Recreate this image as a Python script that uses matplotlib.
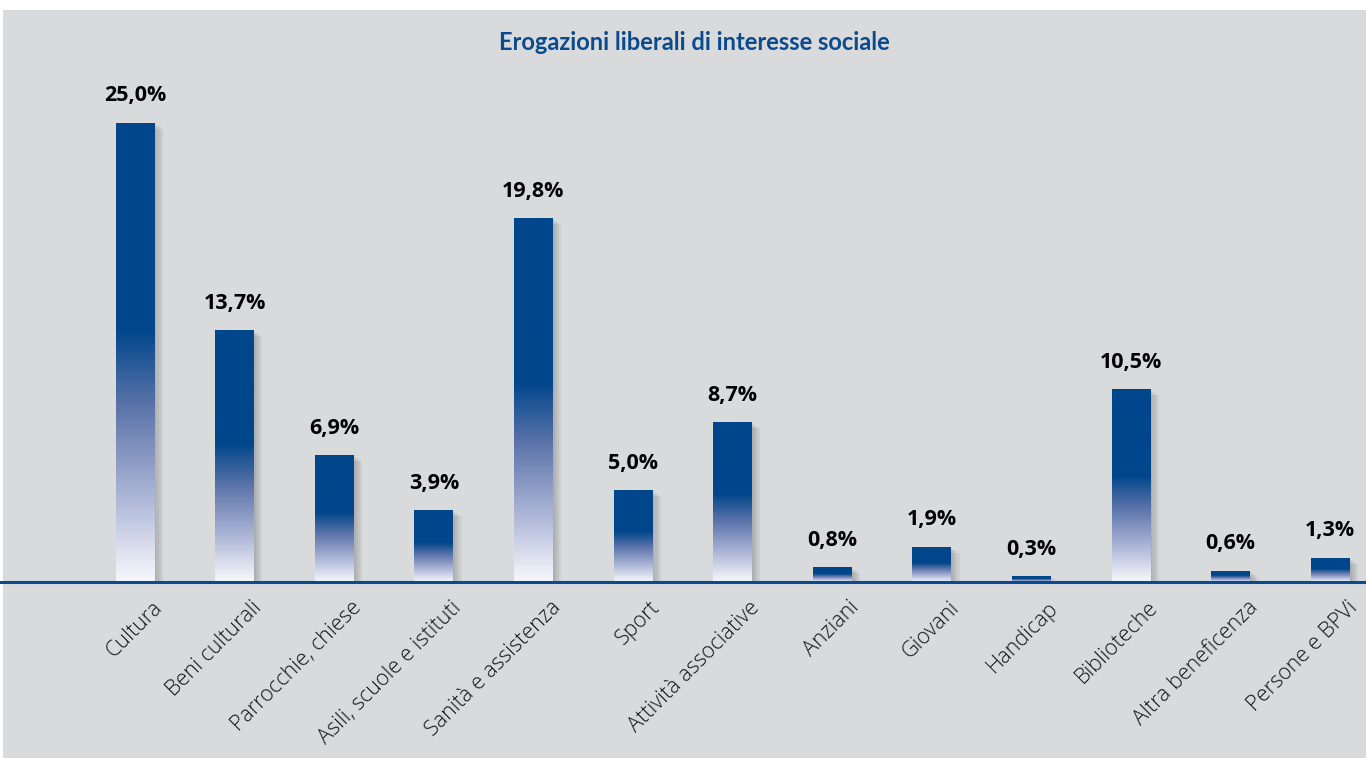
import numpy as np
import matplotlib
matplotlib.use('Agg')
import matplotlib.pyplot as plt
from matplotlib.colors import LinearSegmentedColormap
from matplotlib.patches import Rectangle
import matplotlib.patheffects as pe

# data
categories = ['Cultura', 'Beni culturali', 'Parrocchie, chiese', 'Asili, scuole e istituti',
              'Sanità e assistenza', 'Sport', 'Attività associative', 'Anziani', 'Giovani',
              'Handicap', 'Biblioteche', 'Altra beneficenza', 'Persone e BPVi']
values = [25.0, 13.7, 6.9, 3.9, 19.8, 5.0, 8.7, 0.8, 1.9, 0.3, 10.5, 0.6, 1.3]
value_labels = ['25,0%', '13,7%', '6,9%', '3,9%', '19,8%', '5,0%', '8,7%',
                '0,8%', '1,9%', '0,3%', '10,5%', '0,6%', '1,3%']
title = 'Erogazioni liberali di interesse sociale'

BLUE = '#00468b'
BG = '#d9dadc'

fig = plt.figure(figsize=(13.66, 7.58), dpi=100, facecolor='white')
# grey panel (white strip on top like the source page)
fig.patches.append(Rectangle((3 / 1366, 0), 1, 748 / 758, transform=fig.transFigure,
                             facecolor=BG, edgecolor='none', zorder=-10))

ax = fig.add_axes([0, 176 / 758, 1, 572 / 758])
ax.set_facecolor('none')
for s in ax.spines.values():
    s.set_visible(False)
ax.set_xticks([])
ax.set_yticks([])

# bottom white -> top dark blue
cmap = LinearSegmentedColormap.from_list('fade', [(0.0, '#f8f8fc'), (0.18, '#aeb7d8'),
                                                  (0.38, '#5c74aa'), (0.55, BLUE), (1.0, BLUE)])
grad = np.linspace(1, 0, 256).reshape(-1, 1)

# soft shadow: a few faint offset copies
shadow = [pe.SimplePatchShadow(offset=(o, -o * 0.7), shadow_rgbFace='k', alpha=0.05)
          for o in (1.5, 3, 4.5, 6)]

x = np.arange(len(categories))
w = 0.39
bars = ax.bar(x, values, width=w, color='white', zorder=2,
              path_effects=shadow + [pe.Normal()])
for b in bars:
    im = ax.imshow(grad, extent=[b.get_x(), b.get_x() + b.get_width(), 0, b.get_height()],
                   aspect='auto', cmap=cmap, vmin=0, vmax=1, zorder=3)
    im.set_clip_path(b)

ax.axhline(0, color='#0a4a8e', lw=2.2, zorder=4, clip_on=False)

for xi, v, lab in zip(x, values, value_labels):
    ax.annotate(lab, (xi, v), xytext=(0, 12), textcoords='offset points', ha='center',
                va='bottom', fontsize=15.5, fontweight='bold', color='black', family='Open Sans')

for xi, cat in zip(x, categories):
    ax.annotate(cat, (xi, 0), xytext=(12, -11), textcoords='offset points', ha='right',
                va='top', rotation=45, rotation_mode='anchor', fontsize=15.5,
                fontweight='light', color='#141414', family='Open Sans')

ax.set_xlim(-1.355, 12.36)
ax.set_ylim(0, 31.15)

fig.text(0.508, 1 - 42 / 758, title, ha='center', va='center', fontsize=17,
         fontweight='bold', color='#0b4a8c', family='Lato')

fig.savefig('out.png', dpi=100, facecolor=fig.get_facecolor())
